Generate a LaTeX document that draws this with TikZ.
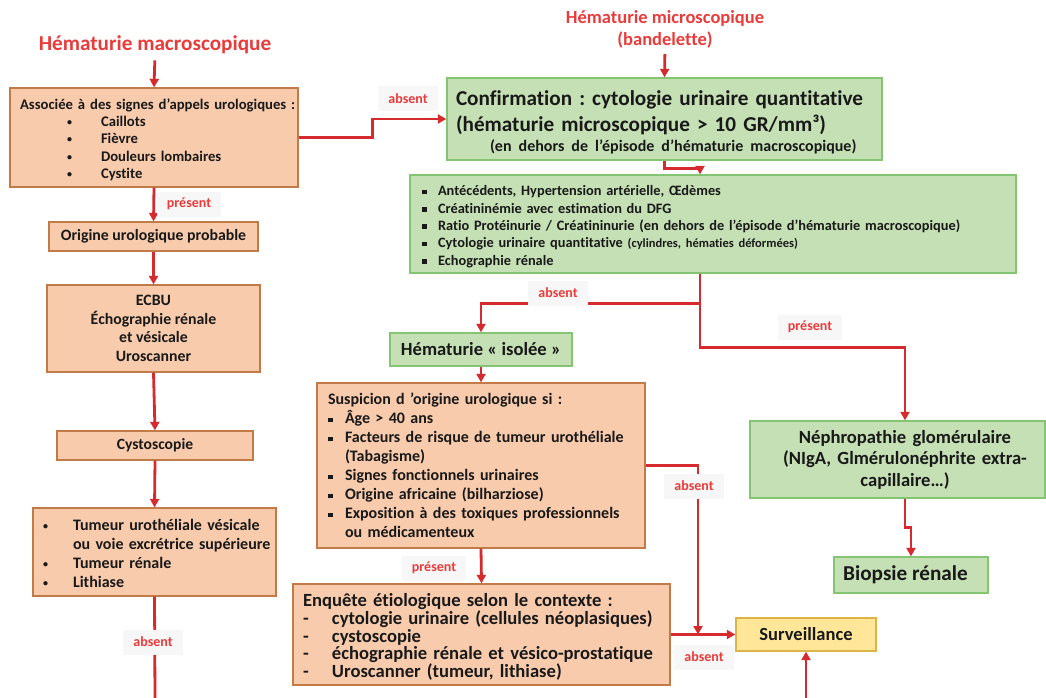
\documentclass[tikz,border=0pt]{standalone}
\usepackage{fontspec}
\setmainfont[Ligatures=NoCommon]{Carlito}
\usetikzlibrary{arrows.meta,positioning,calc}
\definecolor{hmred}{HTML}{D62B2E}
\definecolor{hmtitle}{HTML}{EA3B3B}
\definecolor{hmpeach}{HTML}{F8CBAD}
\definecolor{hmbrown}{HTML}{C27A47}
\definecolor{hmgreen}{HTML}{C5E0B4}
\definecolor{hmgreenln}{HTML}{84C571}
\definecolor{hmyellow}{HTML}{FFE699}
\definecolor{hmgold}{HTML}{DDB445}
\definecolor{hmlabel}{HTML}{F7F7F7}

\frenchspacing
\newcommand{\fsz}[2]{\fontsize{#1}{#2}\selectfont\lineskiplimit=-30pt\relax}
\newcommand{\bul}[1]{\makebox[#1][l]{\raisebox{1pt}{\fontsize{10}{10}\selectfont\textbullet}}}
\newcommand{\sq}[1]{\makebox[#1][l]{\rule[1.5pt]{4.6pt}{4.6pt}}}
\newcommand{\tiret}[1]{\makebox[#1][l]{-}}
\newcommand{\topgap}[1]{\rule{0pt}{#1}}

\begin{document}
\begin{tikzpicture}[
  x=1pt, y=-1pt,
  font=\bfseries,
  >={Triangle[length=8.5pt,width=9pt]},
  box/.style={draw, line width=1.3pt, inner sep=0pt, text=black!90},
  pbox/.style={box, draw=hmbrown, fill=hmpeach},
  gbox/.style={box, draw=hmgreenln, fill=hmgreen},
  ybox/.style={box, draw=hmgold, fill=hmyellow},
  ttl/.style={text=hmtitle, inner sep=0pt},
  link/.style={draw=hmred, line width=2.8pt},
  lbl/.style={fill=hmlabel, text=hmtitle, inner xsep=10pt, minimum height=25pt,
              font=\bfseries\fsz{14}{16}},
]
\useasboundingbox (0,0) rectangle (1046,698);

% ---- titles ----
\node[ttl, font=\bfseries\fsz{21.2}{24}] (ttlmacro) at (155,45) {Hématurie macroscopique};
\node[ttl, align=center, font=\bfseries\fsz{18.5}{22}] (ttlmicro) at (665,29)
  {Hématurie microscopique\\(bandelette)};

% ---- left column (macroscopique) ----
\node[pbox, minimum width=288pt, minimum height=99pt, text width=268pt, align=left,
      font=\bfseries\fsz{14.7}{17.3}] (assoc) at (154,137.5)
  {\topgap{15pt}\mbox{Associée à des signes d’appels urologiques :}\\
   \hspace*{47pt}\bul{34pt}Caillots\\
   \hspace*{47pt}\bul{34pt}Fièvre\\
   \hspace*{47pt}\bul{34pt}Douleurs lombaires\\
   \hspace*{47pt}\bul{34pt}Cystite};
\node[pbox, minimum width=209pt, minimum height=29pt, font=\bfseries\fsz{15.8}{19}] (orig) at (153.5,236.5)
  {Origine urologique probable};
\node[pbox, minimum width=213pt, minimum height=87pt, align=center,
      font=\bfseries\fsz{15.8}{18.7}] (ecbu) at (153.5,328.5)
  {ECBU\\Échographie rénale\\et vésicale\\Uroscanner};
\node[pbox, minimum width=196pt, minimum height=29pt, font=\bfseries\fsz{15.6}{19}] (cysto) at (155,445.5)
  {Cystoscopie};
\node[pbox, minimum width=243pt, minimum height=88pt, text width=223pt, align=left,
      font=\bfseries\fsz{16}{19}] (tum) at (154.5,552)
  {\topgap{15pt}\bul{30pt}Tumeur urothéliale vésicale\\
   \mbox{\hspace*{30pt}ou voie excrétrice supérieure}\\
   \bul{30pt}Tumeur rénale\\
   \bul{30pt}Lithiase};

% ---- right column (microscopique) ----
\node[gbox, minimum width=435pt, minimum height=82pt, text width=417pt, align=left,
      font=\bfseries\fsz{21.2}{20}] (conf) at (664.5,119)
  {\topgap{22pt}Confirmation : cytologie urinaire quantitative\\[6pt]
   (hématurie microscopique > 10 GR/mm³)\\
   \hspace*{34pt}{\fsz{16}{20}(en dehors de l’épisode d’hématurie macroscopique)}};
\node[gbox, minimum width=606pt, minimum height=98pt, text width=582pt, align=left,
      font=\bfseries\fsz{14.35}{17.3}] (bilan) at (713,224)
  {\topgap{15.5pt}\sq{16pt}Antécédents, Hypertension artérielle, Œdèmes\\
   \sq{16pt}Créatininémie avec estimation du DFG\\
   \sq{16pt}Ratio Protéinurie / Créatininurie (en dehors de l’épisode d’hématurie macroscopique)\\
   \sq{16pt}Cytologie urinaire quantitative {\fsz{12.5}{17.3}(cylindres, hématies déformées)}\\
   \sq{16pt}Echographie rénale};
\node[gbox, minimum width=182pt, minimum height=33pt, font=\bfseries\fsz{18.6}{22}] (iso) at (481,349.5)
  {Hématurie « isolée »};
\node[pbox, minimum width=328pt, minimum height=165pt, text width=306pt, align=left,
      font=\bfseries\fsz{16}{19}] (susp) at (481,465.5)
  {Suspicion d ’origine urologique si :\\
   \sq{17pt}Âge > 40 ans\\
   \sq{17pt}Facteurs de risque de tumeur urothéliale\\
   \hspace*{17pt}(Tabagisme)\\
   \sq{17pt}Signes fonctionnels urinaires\\
   \sq{17pt}Origine africaine (bilharziose)\\
   \sq{17pt}Exposition à des toxiques professionnels\\
   \hspace*{17pt}ou médicamenteux};
\node[pbox, minimum width=377pt, minimum height=101pt, text width=357pt, align=left,
      font=\bfseries\fsz{18.6}{17.6}] (enq) at (481.5,634.5)
  {\topgap{18pt}Enquête étiologique selon le contexte :\\
   \tiret{29pt}cytologie urinaire (cellules néoplasiques)\\
   \tiret{29pt}cystoscopie\\
   \tiret{29pt}échographie rénale et vésico-prostatique\\
   \tiret{29pt}Uroscanner (tumeur, lithiase)};
\node[ybox, minimum width=140pt, minimum height=33pt, font=\bfseries\fsz{18.5}{22}] (surv) at (806,634.5)
  {Surveillance};
\node[gbox, minimum width=295pt, minimum height=77pt, text width=285pt, align=center,
      font=\bfseries\fsz{18.6}{21.5}] (nephro) at (897.5,459.5)
  {\hspace*{15pt}Néphropathie glomérulaire\\
   \hspace*{15pt}(NIgA, Glmérulonéphrite extra-\\
   \hspace*{15pt}capillaire…)};
\node[gbox, minimum width=154pt, minimum height=36pt, font=\bfseries\fsz{21.2}{24}] (biop) at (911,575)
  {Biopsie rénale\hspace*{11pt}};

% free ends
\coordinate (tumout) at (155,698);
\coordinate (survin) at (806,698);
\coordinate (jn) at (698,634.5);

% ---- connectors ----
\draw[link,->,shorten <=6pt] (ttlmacro.south) -- (assoc.north);
\draw[link,->,shorten <=6pt] (ttlmicro.south) -- (conf.north);
\draw[link,->] (assoc.east) -- ++(74,0) |- (conf.west);
\draw[link,->] (assoc.south) -- (orig.north);
\draw[link,->] (orig.south) -- (ecbu.north);
\draw[link,->] (ecbu.south) -- (cysto.north);
\draw[link,->] (cysto.south) -- (tum.north);
\draw[link] (tum.south) -- (tumout);
\draw[link,->] (conf.south) -- ++(0,8) -| ([xshift=-13pt]bilan.north);
\draw[link,->] ([xshift=-13pt]bilan.south) -- ++(0,30) -| (iso.north);
\draw[link,->] ([xshift=-13pt]bilan.south) -- ++(0,74) -| ([xshift=7.5pt]nephro.north);
\draw[link,->] (iso.south) -- (susp.north);
\draw[link,->] (susp.south) -- (enq.north);
\draw[link,->] (susp.east) -| (jn);
\draw[link,->] (enq.east) -- (surv.west);
\draw[link,->] (survin) -- (surv.south);
\draw[link,->] ([xshift=7.5pt]nephro.south) -- ++(0,29) -| (biop.north);

% ---- labels ----
\node[lbl] (absA) at (408,99) {absent};
\node[lbl] (preA) at (189,204) {présent};
\node[lbl] (absB) at (153,642) {absent};
\node[lbl] (absC) at (558,293) {absent};
\node[lbl] (preB) at (810,327) {présent};
\node[lbl] (absD) at (694,486) {absent};
\node[lbl] (preC) at (434,568) {présent};
\node[lbl] (absE) at (704,657) {absent};

\end{tikzpicture}
\end{document}
